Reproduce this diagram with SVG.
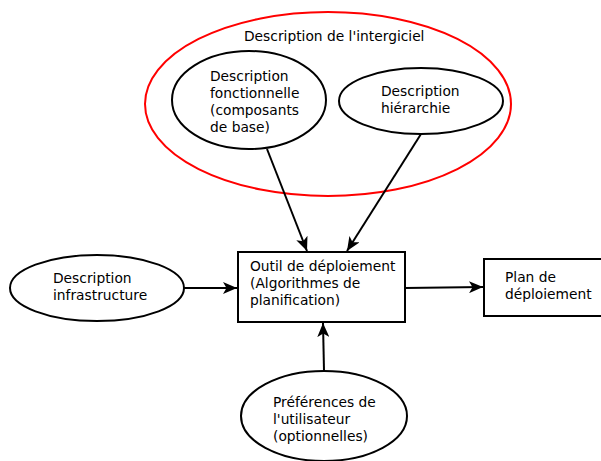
<svg xmlns="http://www.w3.org/2000/svg" width="601" height="461" viewBox="0 0 601 461">
<style>
  text { font-family: "DejaVu Sans", "Liberation Sans", sans-serif; font-size: 13.8px; fill: #000; }
  .node { fill: #fff; stroke: #000; stroke-width: 2; }
  .group { fill: none; stroke: #f00; stroke-width: 2; }
  .edge { fill: none; stroke: #000; stroke-width: 2; }
</style>
<defs>
  <marker id="arrow" viewBox="0 0 14 12" refX="14" refY="6" markerWidth="14" markerHeight="12" markerUnits="userSpaceOnUse" orient="auto">
    <path d="M0,0 L14,6 L0,12 L3.5,6 Z" fill="#000"/>
  </marker>
</defs>
<rect width="601" height="461" fill="#fff"/>
<g id="intergiciel">
  <ellipse class="group" cx="328" cy="104" rx="183" ry="92"/>
  <text x="244" y="41">Description de l'intergiciel</text>
</g>
<g id="fonctionnelle">
  <ellipse class="node" cx="249" cy="100" rx="77" ry="49"/>
  <text x="210" y="81">Description</text>
  <text x="210" y="98">fonctionnelle</text>
  <text x="210" y="115">(composants</text>
  <text x="210" y="132">de base)</text>
</g>
<g id="hierarchie">
  <ellipse class="node" cx="421" cy="101" rx="82" ry="33"/>
  <text x="381" y="96">Description</text>
  <text x="381" y="113">hiérarchie</text>
</g>
<g id="infrastructure">
  <ellipse class="node" cx="97" cy="288" rx="87" ry="33"/>
  <text x="53" y="283">Description</text>
  <text x="53" y="300">infrastructure</text>
</g>
<g id="outil">
  <rect class="node" x="238" y="252" width="167" height="70"/>
  <text x="250" y="271">Outil de déploiement</text>
  <text x="250" y="288">(Algorithmes de</text>
  <text x="250" y="305">planification)</text>
</g>
<g id="plan">
  <rect class="node" x="484" y="259" width="126" height="57"/>
  <text x="505" y="282">Plan de</text>
  <text x="505" y="299">déploiement</text>
</g>
<g id="preferences">
  <ellipse class="node" cx="324" cy="416" rx="83" ry="45"/>
  <text x="273" y="407">Préférences de</text>
  <text x="273" y="424">l'utilisateur</text>
  <text x="273" y="441">(optionnelles)</text>
</g>
<g id="connectors">
  <line class="edge" x1="267" y1="149" x2="307" y2="251" marker-end="url(#arrow)"/>
  <line class="edge" x1="421" y1="134" x2="347" y2="251" marker-end="url(#arrow)"/>
  <line class="edge" x1="184" y1="288" x2="237" y2="288" marker-end="url(#arrow)"/>
  <line class="edge" x1="405" y1="288" x2="483" y2="287" marker-end="url(#arrow)"/>
  <line class="edge" x1="324" y1="371" x2="323" y2="323" marker-end="url(#arrow)"/>
</g>
</svg>
